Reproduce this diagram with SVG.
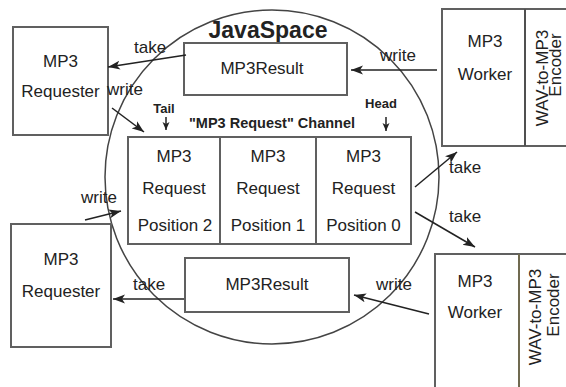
<svg xmlns="http://www.w3.org/2000/svg" width="566" height="387" viewBox="0 0 566 387">
<defs>
<style>
.box{fill:#fff;stroke:#606060;stroke-width:2}
.t{font-family:"Liberation Sans",Arial,sans-serif;font-size:17px;fill:#222;text-anchor:middle}
.lbl{font-family:"Liberation Sans",Arial,sans-serif;font-size:17px;fill:#222}
.b{font-family:"Liberation Sans",Arial,sans-serif;font-weight:bold;fill:#222;text-anchor:middle}
.ar{stroke:#222;stroke-width:1.5;fill:none;marker-end:url(#ah)}
.sar{stroke:#222;stroke-width:1.5;fill:none;marker-end:url(#sh)}
</style>
<marker id="ah" markerUnits="userSpaceOnUse" markerWidth="14" markerHeight="10" refX="12" refY="4.5" orient="auto">
<path d="M0,0 L12,4.5 L0,9 L3,4.5 Z" fill="#222"/>
</marker>
<marker id="sh" markerUnits="userSpaceOnUse" markerWidth="10" markerHeight="8" refX="8" refY="3.5" orient="auto">
<path d="M0,0 L8,3.5 L0,7 L2,3.5 Z" fill="#222"/>
</marker>
</defs>
<rect width="566" height="387" fill="#fff"/>
<g id="javaspace">
<circle cx="272" cy="177" r="167" fill="none" stroke="#444" stroke-width="1.5"/>
<text class="b" x="268" y="38" font-size="23">JavaSpace</text>
</g>
<g id="requester-top">
<rect class="box" x="13" y="27" width="95" height="108"/>
<text class="t" x="60.5" y="67">MP3</text>
<text class="t" x="60.5" y="97">Requester</text>
</g>
<g id="requester-bottom">
<rect class="box" x="11" y="224" width="100" height="123"/>
<text class="t" x="61" y="265">MP3</text>
<text class="t" x="61" y="297">Requester</text>
</g>
<g id="result-top">
<rect class="box" x="184" y="43" width="163" height="52"/>
<text class="t" x="262" y="74">MP3Result</text>
</g>
<g id="result-bottom">
<rect class="box" x="185" y="258" width="164" height="54"/>
<text class="t" x="267" y="290">MP3Result</text>
</g>
<g id="channel-label">
<text class="b" x="272" y="128" font-size="14.5">"MP3 Request" Channel</text>
<text class="b" x="164" y="113" font-size="13">Tail</text>
<text class="b" x="381" y="108" font-size="13">Head</text>
</g>
<g id="pos2">
<rect class="box" x="128" y="137" width="92" height="107"/>
<text class="t" x="174" y="162">MP3</text>
<text class="t" x="174" y="194">Request</text>
<text class="t" x="175" y="231">Position 2</text>
</g>
<g id="pos1">
<rect class="box" x="220" y="137" width="96" height="107"/>
<text class="t" x="268" y="162">MP3</text>
<text class="t" x="268" y="194">Request</text>
<text class="t" x="268" y="231">Position 1</text>
</g>
<g id="pos0">
<rect class="box" x="316" y="137" width="95" height="107"/>
<text class="t" x="363.5" y="162">MP3</text>
<text class="t" x="363.5" y="194">Request</text>
<text class="t" x="363.5" y="231">Position 0</text>
</g>
<g id="worker-top">
<rect class="box" x="442" y="9" width="130" height="137"/>
<line x1="525" y1="9" x2="525" y2="146" stroke="#505050" stroke-width="2"/>
<text class="t" x="485" y="47">MP3</text>
<text class="t" x="485" y="80">Worker</text>
<text class="t" transform="translate(548,78) rotate(-90)">WAV-to-MP3</text>
<text class="t" transform="translate(561,65) rotate(-90)">Encoder</text>
</g>
<g id="worker-bottom">
<rect class="box" x="435" y="254" width="140" height="140"/>
<line x1="519" y1="254" x2="519" y2="390" stroke="#706a50" stroke-width="2"/>
<text class="t" x="475" y="287">MP3</text>
<text class="t" x="475" y="318">Worker</text>
<text class="t" transform="translate(541,317) rotate(-90)">WAV-to-MP3</text>
<text class="t" transform="translate(559,305) rotate(-90)">Encoder</text>
</g>
<g id="connectors">
<line class="ar" x1="186" y1="55" x2="108" y2="67"/>
<text class="lbl" x="134" y="53">take</text>
<line class="ar" x1="112" y1="108" x2="144" y2="132"/>
<text class="lbl" x="107" y="95">write</text>
<line class="sar" x1="166" y1="117" x2="166" y2="130"/>
<line class="sar" x1="386" y1="117" x2="386" y2="131"/>
<line class="ar" x1="437" y1="70" x2="351" y2="70"/>
<text class="lbl" x="380" y="61">write</text>
<line class="ar" x1="415" y1="187" x2="457" y2="152"/>
<text class="lbl" x="449" y="173">take</text>
<line class="ar" x1="415" y1="212" x2="475" y2="247"/>
<text class="lbl" x="449" y="222">take</text>
<line class="ar" x1="429" y1="314" x2="354" y2="295"/>
<text class="lbl" x="376" y="290">write</text>
<line class="ar" x1="184" y1="299" x2="113" y2="299"/>
<text class="lbl" x="133" y="290">take</text>
<line class="ar" x1="85" y1="220" x2="121" y2="211"/>
<text class="lbl" x="81" y="203">write</text>
</g>
</svg>
